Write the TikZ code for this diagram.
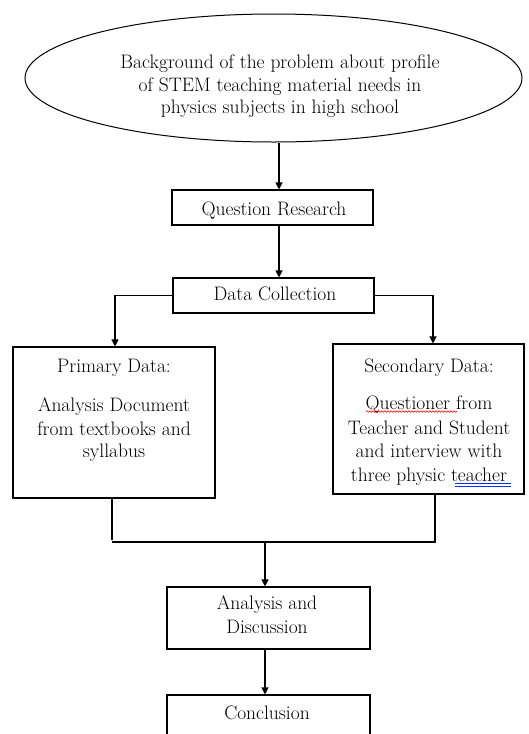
\documentclass[tikz,border=0pt]{standalone}
\usetikzlibrary{shapes.geometric,arrows.meta,decorations.pathmorphing}
\begin{document}
\begin{tikzpicture}[x=1pt,y=-1pt,
  box/.style={draw,line width=1.1pt,rectangle,inner sep=0pt},
  txt/.style={font=\fontsize{19.5}{23}\selectfont,inner sep=0pt,anchor=base},
  arr/.style={line width=1.1pt,-{Triangle[length=7pt,width=7pt]}},
  ln/.style={line width=1.1pt}]
\useasboundingbox (0,0) rectangle (528,734);
\clip (0,0) rectangle (528,734);
% top ellipse
\node[ellipse,draw,line width=1pt,minimum width=497pt,minimum height=128pt,inner sep=0pt] (bg) at (273.5,78) {};
\node[txt] (bg1) at (280,68) {Background of the problem about profile};
\node[txt] (bg2) at (280,91) {of STEM teaching material needs in};
\node[txt] (bg3) at (280,113.5) {physics subjects in high school};
% question research
\node[box,minimum width=201pt,minimum height=35pt] (qr) at (272.5,207.5) {};
\node[txt] (qrt) at (274,215) {Question Research};
% data collection
\node[box,minimum width=201pt,minimum height=35pt] (dc) at (273.5,295.5) {};
\node[txt] (dct) at (275,300.5) {Data Collection};
% primary
\node[box,minimum width=202pt,minimum height=151pt] (pri) at (114,422.5) {};
\node[txt] (p0) at (114,372) {Primary Data:};
\node[txt] (p1) at (114,411) {Analysis Document};
\node[txt] (p2) at (114,435) {from textbooks and};
\node[txt] (p3) at (114,457.5) {syllabus};
% secondary
\node[box,minimum width=191pt,minimum height=150pt] (sec) at (428.5,419) {};
\node[txt] (s0) at (429,372) {Secondary Data:};
\node[txt] (s1) at (429,409) {Questioner from};
\node[txt] (s2) at (429,434) {Teacher and Student};
\node[txt] (s3) at (429,457) {and interview with};
\node[txt] (s4) at (429,481) {three physic teacher};
% spell-check marks
\draw[red,line width=0.6pt,decorate,decoration={snake,amplitude=0.8pt,segment length=3pt}] (366,411.5) -- (457,411.5);
\draw[blue!80!cyan,line width=0.6pt] (455,483.5) -- (511,483.5) (455,486) -- (511,486);
% analysis
\node[box,minimum width=203pt,minimum height=62pt] (an) at (268.5,618) {};
\node[txt] (an1) at (267,609) {Analysis and};
\node[txt] (an2) at (267,633) {Discussion};
% conclusion
\node[box,minimum width=203pt,minimum height=70pt] (co) at (268.5,730) {};
\node[txt] (cot) at (267,719) {Conclusion};
% connectors
\coordinate (j) at (265,542);
\draw[arr] ([xshift=6.5pt]qr.north |- bg.south) -- ([xshift=6.5pt]qr.north);
\draw[arr] ([xshift=6.5pt]qr.south) -- ([xshift=6.5pt]qr.south |- dc.north);
\draw[arr] (dc.west) -| ([xshift=1pt]pri.north);
\draw[arr] (dc.east) -| ([xshift=4.5pt]sec.north);
\draw[ln] ([xshift=-2pt]pri.south) -- ([xshift=-2pt,yshift=2pt]pri.south |- j);
\draw[ln] ([xshift=-2pt]pri.south |- j) -- ([xshift=6.5pt]sec.south |- j) -- ([xshift=6.5pt]sec.south);
\draw[arr] (j) -- (j |- an.north);
\draw[arr] (j |- an.south) -- (j |- co.north);
\end{tikzpicture}
\end{document}
